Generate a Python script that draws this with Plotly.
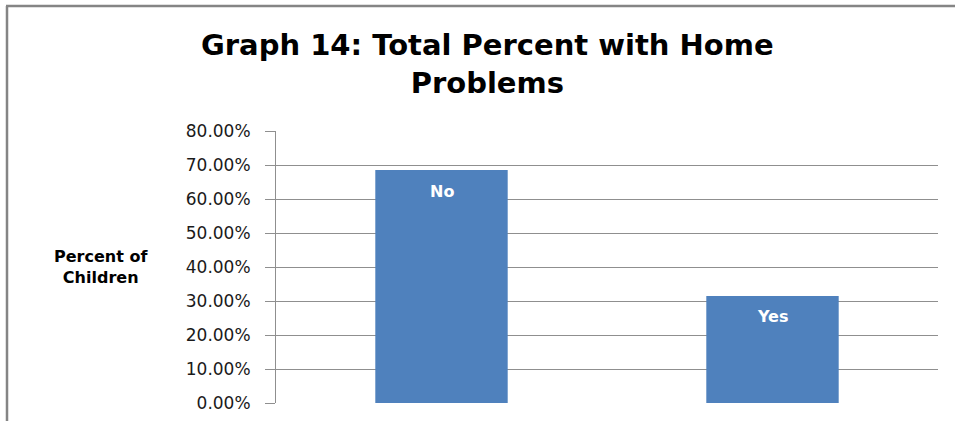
import plotly.graph_objects as go

# Survey result: share of children with / without home problems
categories = ["No", "Yes"]
percent = [68.5, 31.5]
tick_values = [0, 10, 20, 30, 40, 50, 60, 70, 80]
tick_labels = [f"{v:.2f}%" for v in tick_values]

W, H = 955, 421
L, R, T, B = 276, 17, 131, 18
plot_w = W - L - R
plot_h = H - T - B

BAR_BLUE = "#4F81BD"
GRID = "#8F8F8F"
FRAME = "#858585"
FONT = "DejaVu Sans"


def px_x(p):
    return (p - L) / plot_w


def px_y(p):
    return (H - B - p) / plot_h


fig = go.Figure(
    go.Bar(
        x=categories,
        y=percent,
        marker=dict(color=BAR_BLUE, line=dict(width=0)),
        hoverinfo="skip",
    )
)

# Category names written in white near the top of each bar
for cat, val in zip(categories, percent):
    fig.add_annotation(
        x=cat, y=val, xref="x", yref="y",
        text=f"<b>{cat}</b>", showarrow=False,
        yshift=-21,
        font=dict(family=FONT, size=16, color="white"),
    )

# Chart title
fig.add_annotation(
    xref="paper", yref="paper",
    x=px_x(487), y=px_y(64),
    text="<b>Graph 14: Total Percent with Home<br>Problems</b>",
    showarrow=False, xanchor="center", yanchor="middle", align="center",
    font=dict(family=FONT, size=29, color="black"),
)

# Horizontal axis title on the left
fig.add_annotation(
    xref="paper", yref="paper",
    x=px_x(101), y=px_y(267),
    text="<b>Percent of<br>Children</b>", showarrow=False,
    xanchor="center", yanchor="middle", align="center",
    font=dict(family=FONT, size=16, color="black"),
)

# Chart frame: only its top and left edges fall inside the page
fig.add_shape(
    type="line", xref="paper", yref="paper",
    x0=px_x(6), x1=px_x(W), y0=px_y(6), y1=px_y(6),
    line=dict(color=FRAME, width=2.5), layer="below",
)
fig.add_shape(
    type="line", xref="paper", yref="paper",
    x0=px_x(7), x1=px_x(7), y0=px_y(6), y1=px_y(H),
    line=dict(color=FRAME, width=2.5), layer="below",
)

fig.update_layout(
    width=W, height=H,
    margin=dict(l=L, r=R, t=T, b=B, pad=0, autoexpand=False),
    paper_bgcolor="white", plot_bgcolor="white",
    bargap=0.6,
    showlegend=False,
    xaxis=dict(
        showticklabels=False, showgrid=False, zeroline=False,
        showline=False, ticks="", automargin=False,
    ),
    yaxis=dict(
        range=[0, 80],
        tickvals=tick_values, ticktext=tick_labels,
        tickfont=dict(family=FONT, size=17, color="#1a1a1a"),
        ticks="outside", ticklen=10, tickcolor=GRID, tickwidth=1,
        showline=True, linecolor=GRID, linewidth=1,
        showgrid=True, gridcolor=GRID, gridwidth=1,
        zeroline=False, automargin=False,
        ticklabelstandoff=11,
    ),
)

fig.write_html("out.html")
